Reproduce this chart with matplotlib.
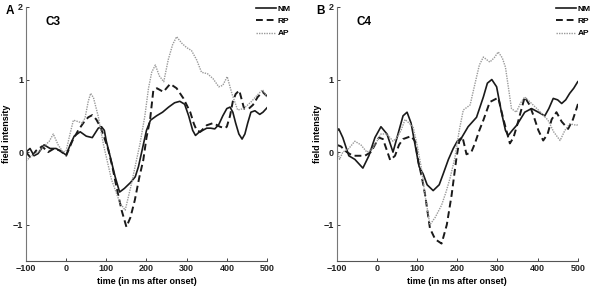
import matplotlib.pyplot as plt

# Panel A (C3) - tiempos y valores
t_nm_a = [-100, -90, -80, -70, -55, -40, -25, -10, 0, 10, 20, 35, 50, 65, 80, 88, 95, 100, 110, 122, 133, 145,
          160, 172, 180, 190, 200, 210, 225, 240, 255, 270, 283, 295, 305, 315, 322, 330, 340, 350, 360, 370,
          380, 390, 400, 408, 415, 422, 430, 438, 445, 452, 460, 470, 482, 490, 500]
nm_a = [0.0, 0.05, -0.05, -0.02, 0.1, 0.05, 0.05, 0.0, -0.04, 0.1, 0.22, 0.28, 0.22, 0.2, 0.33, 0.35, 0.3, 0.15,
        -0.07, -0.34, -0.55, -0.5, -0.42, -0.34, -0.2, 0.05, 0.3, 0.44, 0.5, 0.55, 0.62, 0.68, 0.7, 0.66, 0.5,
        0.3, 0.23, 0.27, 0.3, 0.33, 0.33, 0.32, 0.38, 0.5, 0.6, 0.62, 0.55, 0.4, 0.25, 0.18, 0.25, 0.4, 0.55,
        0.57, 0.52, 0.55, 0.61]

t_rp_a = [-100, -88, -75, -60, -45, -30, -15, 0, 15, 30, 45, 55, 65, 75, 85, 95, 105, 115, 126, 138, 150, 160,
          171, 182, 192, 200, 209, 217, 226, 242, 259, 275, 292, 309, 318, 325, 334, 350, 366, 383, 395, 400,
          408, 415, 422, 431, 443, 455, 465, 477, 489, 500]
rp_a = [0.0, -0.08, 0.02, 0.08, 0.0, 0.05, 0.02, -0.05, 0.15, 0.3, 0.42, 0.48, 0.51, 0.45, 0.35, 0.2, 0.03,
        -0.2, -0.5, -0.8, -1.03, -0.9, -0.66, -0.35, -0.11, 0.2, 0.45, 0.85, 0.88, 0.83, 0.94, 0.88, 0.74, 0.55,
        0.39, 0.3, 0.28, 0.37, 0.4, 0.35, 0.33, 0.35, 0.5, 0.7, 0.8, 0.85, 0.6, 0.6, 0.65, 0.76, 0.83, 0.77]

t_ap_a = [-100, -85, -70, -55, -42, -32, -20, -8, 0, 10, 18, 30, 40, 47, 55, 61, 68, 80, 93, 113, 134, 147, 162,
          184, 196, 205, 213, 222, 232, 243, 254, 265, 275, 288, 300, 312, 325, 337, 352, 366, 380, 390, 401,
          413, 427, 442, 460, 475, 489, 500]
ap_a = [-0.12, -0.05, 0.0, 0.08, 0.15, 0.25, 0.1, 0.0, 0.02, 0.26, 0.44, 0.42, 0.4, 0.47, 0.7, 0.81, 0.75, 0.49,
        0.1, -0.38, -0.7, -0.8, -0.45, 0.12, 0.5, 0.88, 1.1, 1.2, 1.05, 0.97, 1.27, 1.48, 1.59, 1.5, 1.44, 1.4,
        1.27, 1.1, 1.08, 1.01, 0.9, 0.92, 1.04, 0.8, 0.58, 0.6, 0.69, 0.78, 0.86, 0.76]

# Panel B (C4)
t_nm_b = [-100, -95, -85, -70, -55, -35, -20, -5, 10, 25, 40, 55, 65, 75, 85, 95, 105, 115, 125, 140, 155, 165,
          178, 190, 200, 211, 227, 248, 265, 275, 286, 298, 310, 320, 327, 337, 348, 368, 385, 402, 418, 428,
          439, 450, 460, 470, 480, 490, 500]
nm_b = [0.28, 0.32, 0.2, -0.05, -0.1, -0.22, -0.05, 0.2, 0.35, 0.25, 0.0, 0.3, 0.5, 0.55, 0.4, 0.1, -0.2, -0.3,
        -0.45, -0.53, -0.45, -0.3, -0.1, 0.05, 0.15, 0.2, 0.35, 0.48, 0.76, 0.95, 1.0, 0.9, 0.55, 0.3, 0.23, 0.3,
        0.37, 0.55, 0.6, 0.55, 0.5, 0.6, 0.74, 0.72, 0.67, 0.72, 0.81, 0.88, 0.97]

t_rp_b = [-100, -90, -75, -60, -45, -30, -15, -5, 5, 15, 25, 33, 45, 55, 65, 75, 85, 95, 103, 112, 120, 132, 145,
          161, 174, 186, 198, 205, 213, 223, 235, 244, 255, 265, 281, 302, 315, 331, 340, 350, 368, 380, 390,
          402, 414, 425, 435, 447, 460, 476, 488, 501]
rp_b = [0.1, 0.08, 0.0, -0.05, -0.05, -0.05, 0.0, 0.1, 0.2, 0.18, 0.02, -0.11, -0.05, 0.1, 0.18, 0.2, 0.22, 0.15,
        -0.13, -0.35, -0.59, -1.05, -1.2, -1.26, -1.0, -0.59, -0.08, 0.15, 0.21, -0.03, 0.0, 0.12, 0.3, 0.44,
        0.69, 0.75, 0.45, 0.12, 0.2, 0.39, 0.76, 0.65, 0.5, 0.3, 0.16, 0.25, 0.45, 0.55, 0.42, 0.32, 0.45, 0.67]

t_ap_b = [-100, -93, -85, -70, -55, -40, -25, -10, 0, 10, 25, 40, 50, 60, 70, 80, 90, 100, 110, 120, 132, 145,
          161, 172, 182, 194, 205, 215, 232, 244, 255, 265, 281, 292, 302, 312, 320, 335, 347, 358, 368, 385,
          402, 426, 440, 456, 468, 480, 497, 500]
ap_b = [0.05, -0.1, 0.0, 0.05, 0.15, 0.1, 0.0, 0.05, 0.15, 0.25, 0.25, 0.15, 0.2, 0.3, 0.45, 0.4, 0.35, 0.1,
        -0.2, -0.6, -1.0, -0.9, -0.73, -0.55, -0.36, -0.08, 0.3, 0.58, 0.65, 0.94, 1.2, 1.31, 1.24, 1.3, 1.38,
        1.3, 1.17, 0.6, 0.55, 0.68, 0.76, 0.67, 0.58, 0.44, 0.28, 0.16, 0.3, 0.39, 0.37, 0.38]

xticks = [-100, 0, 100, 200, 300, 400, 500]
yticks = [-1, 0, 1, 2]

plt.rcParams['font.family'] = ['Liberation Sans', 'DejaVu Sans']
plt.rcParams['font.weight'] = 'bold'

fig = plt.figure(figsize=(5.95, 2.9), dpi=100)
ax_a = fig.add_axes([0.0437, 0.1, 0.405, 0.876])
ax_b = fig.add_axes([0.566, 0.1, 0.405, 0.876])

# (eje, letra, canal, NM, RP, AP, posicion x de la leyenda)
paneles = [
    (ax_a, "A", "C3", (t_nm_a, nm_a), (t_rp_a, rp_a), (t_ap_a, ap_a), 1.115),
    (ax_b, "B", "C4", (t_nm_b, nm_b), (t_rp_b, rp_b), (t_ap_b, ap_b), 1.07),
]

for ax, letra, canal, nm, rp, ap, ley_x in paneles:
    ax.plot(nm[0], nm[1], color="#1a1a1a", lw=1.2, label="NM")
    ax.plot(rp[0], rp[1], color="#1a1a1a", lw=1.4, dashes=(3.5, 2), label="RP")
    ax.plot(ap[0], ap[1], color="#9a9a9a", lw=1.0, ls=(0, (1, 0.8)), label="AP")
    ax.set_xlim(-100, 500)
    ax.set_ylim(-1.5, 2)
    ax.set_xticks(xticks)
    ax.set_yticks(yticks)
    ax.tick_params(direction="in", length=2, width=0.6, labelsize=6.5, pad=2, colors="#222222")
    for lab in ax.get_xticklabels() + ax.get_yticklabels():
        lab.set_fontweight("bold")
    ax.spines["top"].set_visible(False)
    ax.spines["right"].set_visible(False)
    ax.spines["left"].set_color("#777777")
    ax.spines["bottom"].set_color("#555555")
    ax.spines["left"].set_linewidth(0.8)
    ax.spines["bottom"].set_linewidth(0.8)
    ax.set_xlabel("time (in ms after onset)", fontsize=6.5, fontweight="bold", labelpad=3)
    ax.set_ylabel("field intensity", fontsize=6.5, fontweight="bold", labelpad=1)
    ax.text(0.08, 0.94, canal, transform=ax.transAxes, fontsize=8.5, fontweight="bold", va="center")
    ax.text(-0.085, 0.985, letra, transform=ax.transAxes, fontsize=8.5, fontweight="bold", va="center")
    ax.legend(loc="upper right", bbox_to_anchor=(ley_x, 1.025), frameon=False, fontsize=6,
              handlelength=2.4, handletextpad=0.2, labelspacing=0.55, borderpad=0)

fig.savefig("out.png", dpi=100)
